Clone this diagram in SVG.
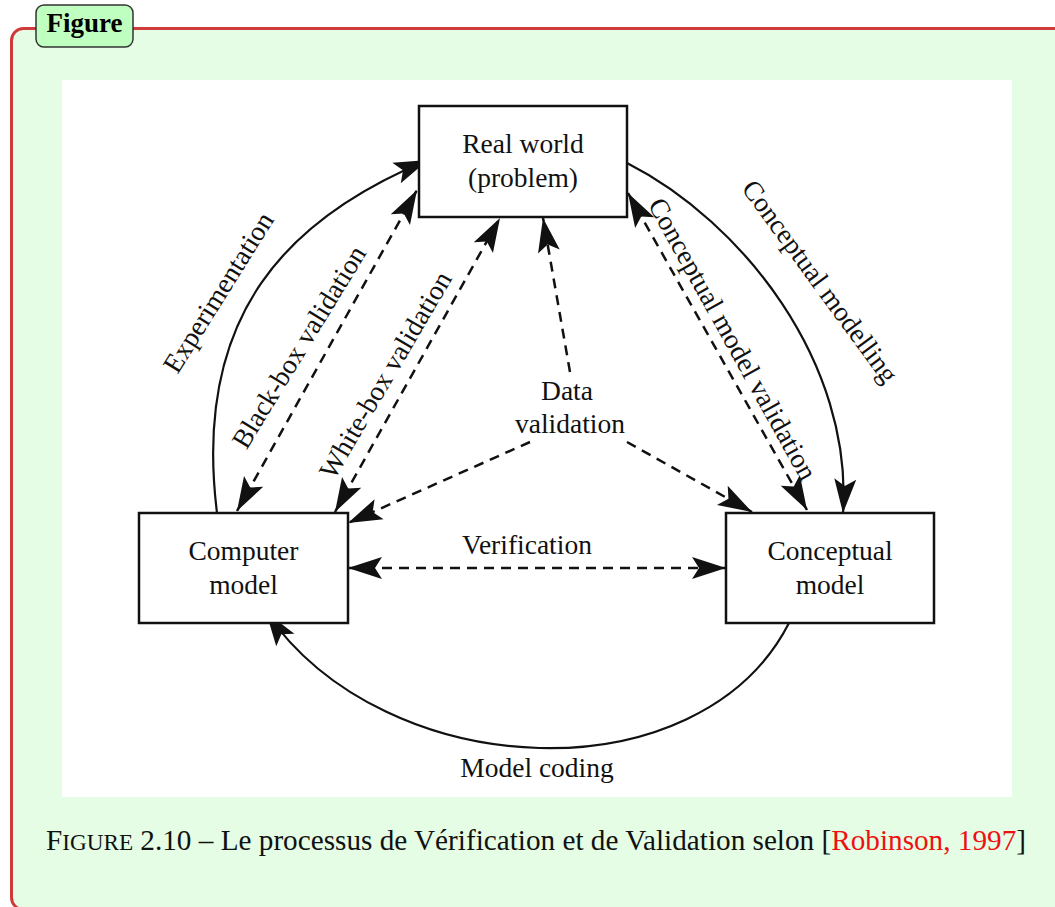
<svg xmlns="http://www.w3.org/2000/svg" width="1055" height="907" viewBox="0 0 1055 907">
<style>
.frame{fill:#e5fde5;stroke:#cf3b3b;stroke-width:3}
.tag{fill:#bfffbf;stroke:#333;stroke-width:1.5}
.box{fill:#fff;stroke:#111;stroke-width:2.5}
.t{font-family:"Liberation Serif","Times New Roman",serif;font-size:27.5px;fill:#111;text-anchor:middle}
.solid{fill:none;stroke:#111;stroke-width:2.2}
.dash{fill:none;stroke:#111;stroke-width:2.5;stroke-dasharray:10 7}
.cap{font-family:"Liberation Serif","Times New Roman",serif;font-size:29px;fill:#111}
</style>
<defs>
<marker id="ah" viewBox="-36 -13 38 26" refX="0" refY="0" markerWidth="38" markerHeight="26" markerUnits="userSpaceOnUse" orient="auto-start-reverse">
<path d="M0,0 L-34,-11 L-27,0 L-34,11 Z" fill="#111"/>
</marker>
</defs>
<rect class="frame" x="11.5" y="28.5" width="1080" height="881" rx="12"/>
<rect x="62" y="80" width="950" height="717" fill="#fff"/>
<g id="figure-tag">
<rect class="tag" x="36" y="5" width="97" height="42" rx="8"/>
<text x="84.5" y="32" font-family="Liberation Serif, serif" font-weight="bold" font-size="27" text-anchor="middle" fill="#000">Figure</text>
</g>
<g id="connectors">
<path class="solid" d="M217,513 C192,313 290,217 428,160" marker-end="url(#ah)"/>
<path class="solid" d="M627,163 C743,222 853,363 843,513" marker-end="url(#ah)"/>
<path class="solid" d="M789,623 C700,797 386,786 266,612" marker-end="url(#ah)"/>
<line class="dash" x1="237" y1="511" x2="417" y2="190" marker-start="url(#ah)" marker-end="url(#ah)"/>
<line class="dash" x1="335" y1="512" x2="500" y2="218" marker-start="url(#ah)" marker-end="url(#ah)"/>
<line class="dash" x1="570" y1="372" x2="543" y2="218" marker-end="url(#ah)"/>
<line class="dash" x1="530" y1="442" x2="348" y2="523" marker-end="url(#ah)"/>
<line class="dash" x1="627" y1="442" x2="752" y2="512" marker-end="url(#ah)"/>
<line class="dash" x1="628" y1="193" x2="807" y2="510" marker-start="url(#ah)" marker-end="url(#ah)"/>
<line class="dash" x1="348" y1="568" x2="726" y2="568" marker-start="url(#ah)" marker-end="url(#ah)"/>
</g>
<g id="real-world">
<rect class="box" x="419" y="106" width="208" height="111"/>
<text class="t" x="523" y="153">Real world</text>
<text class="t" x="523" y="187">(problem)</text>
</g>
<g id="computer-model">
<rect class="box" x="139" y="513" width="209" height="110"/>
<text class="t" x="243.5" y="560">Computer</text>
<text class="t" x="243.5" y="594">model</text>
</g>
<g id="conceptual-model">
<rect class="box" x="726" y="513" width="208" height="110"/>
<text class="t" x="830" y="560">Conceptual</text>
<text class="t" x="830" y="594">model</text>
</g>
<g id="labels">
<text class="t" transform="translate(218.5,292.5) rotate(-58)" y="9">Experimentation</text>
<text class="t" transform="translate(299,347) rotate(-58.6)" y="9">Black-box validation</text>
<text class="t" transform="translate(385.5,375) rotate(-59.6)" y="9">White-box validation</text>
<text class="t" transform="translate(732.5,339) rotate(60.9)" y="9">Conceptual model validation</text>
<text class="t" transform="translate(820,281.5) rotate(53.8)" y="9">Conceptual modelling</text>
<text class="t" x="567" y="400">Data</text>
<text class="t" x="570" y="433">validation</text>
<text class="t" x="527" y="554">Verification</text>
<text class="t" x="537" y="777">Model coding</text>
</g>
<text class="cap" x="46" y="850" textLength="980" lengthAdjust="spacingAndGlyphs">F<tspan font-size="23">IGURE</tspan> 2.10 – Le processus de Vérification et de Validation selon [<tspan fill="#ee1111">Robinson, 1997</tspan>]</text>
</svg>
